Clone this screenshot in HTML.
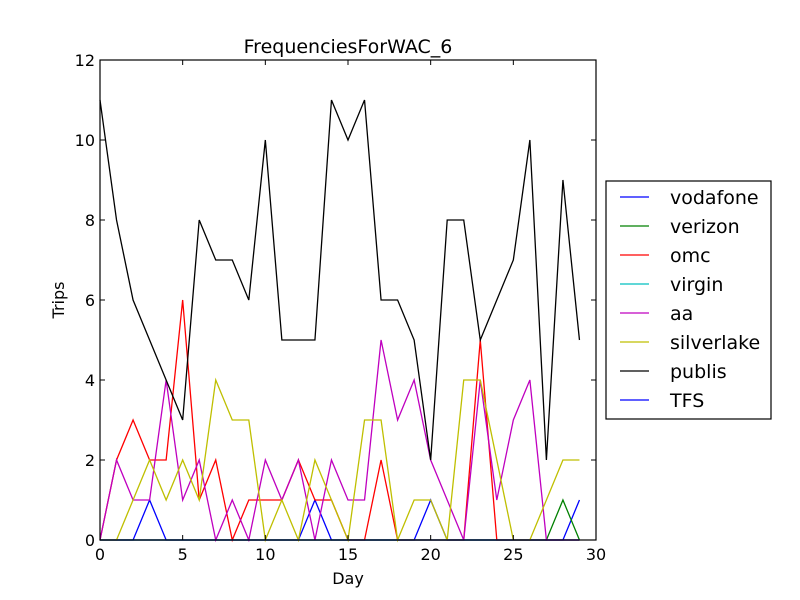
<!DOCTYPE html>
<html><head><meta charset="utf-8"><style>
body{margin:0;background:#fff}
svg{display:block;font-family:"DejaVu Sans","Liberation Sans",sans-serif}
</style></head><body>
<svg id="chart" width="800" height="600" xmlns="http://www.w3.org/2000/svg">
<rect width="800" height="600" fill="#fff"/>
<text x="348" y="53" font-size="19" text-anchor="middle">FrequenciesForWAC_6</text>
<g id="plot"></g>
<text x="348" y="584" font-size="16" text-anchor="middle">Day</text>
<text x="64" y="300" font-size="16" text-anchor="middle" transform="rotate(-90 64 300)">Trips</text>
<g id="legend"></g>
</svg>
<script>
const days = Array.from({length:30},(_,i)=>i);
const seriesNames = ["vodafone","verizon","omc","virgin","aa","silverlake","publis","TFS"];
const seriesColors = ["#0000ff","#008000","#ff0000","#00bfbf","#bf00bf","#bfbf00","#000000","#0000ff"];
const vodafone = [0,0,0,1,0,0,0,0,0,0,0,0,0,1,0,0,0,0,0,0,1,0,0,0,0,0,0,0,0,1];
const verizon = [0,0,0,0,0,0,0,0,0,0,0,0,0,0,0,0,0,0,0,0,0,0,0,0,0,0,0,0,1,0];
const omc = [0,2,3,2,2,6,1,2,0,1,1,1,2,1,1,0,0,2,0,0,0,0,0,5,0,0,0,0,0,0];
const virgin = [0,0,0,0,0,0,0,0,0,0,0,0,0,0,0,0,0,0,0,0,0,0,0,0,0,0,0,0,0,0];
const aa = [0,2,1,1,4,1,2,0,1,0,2,1,2,0,2,1,1,5,3,4,2,1,0,4,1,3,4,0,0,0];
const silverlake = [0,0,1,2,1,2,1,4,3,3,0,1,0,2,1,0,3,3,0,1,1,0,4,4,2,0,0,1,2,2];
const publis = [11,8,6,5,4,3,8,7,7,6,10,5,5,5,11,10,11,6,6,5,2,8,8,5,6,7,10,2,9,5];
const TFS = [0,0,0,0,0,0,0,0,0,0,0,0,0,0,0,0,0,0,0,0,0,0,0,0,0,0,0,0,0,0];
const xTicks = [0,5,10,15,20,25,30];
const yTicks = [0,2,4,6,8,10,12];

const NS="http://www.w3.org/2000/svg";
const L=100,R=596,T=60,B=540;
const xs=v=>L+(v/30)*(R-L);
const ys=v=>B-(v/12)*(B-T);
const plot=document.getElementById('plot');
function mk(tag,attrs,parent){const e=document.createElementNS(NS,tag);for(const k in attrs)e.setAttribute(k,attrs[k]);parent.appendChild(e);return e;}
const allSeries=[vodafone,verizon,omc,virgin,aa,silverlake,publis,TFS];
allSeries.forEach((s,i)=>{
  const p=mk('polyline',{points:s.map((v,j)=>xs(days[j])+','+ys(v)).join(' '),fill:'none',stroke:seriesColors[i],'stroke-width':1.3},plot);
  
  
});
const frame=mk('rect',{x:L,y:T,width:R-L,height:B-T,fill:'none',stroke:'#000','stroke-width':1.2},plot);


xTicks.forEach(t=>{
  const x=xs(t);
  mk('line',{x1:x,y1:B,x2:x,y2:B-5,stroke:'#000'},plot);
  mk('line',{x1:x,y1:T,x2:x,y2:T+5,stroke:'#000'},plot);
  const tx=mk('text',{x:x,y:B+20,'font-size':16,'text-anchor':'middle'},plot);
  tx.textContent=t;
  
  
});
yTicks.forEach(t=>{
  const y=ys(t);
  mk('line',{x1:L,y1:y,x2:L+5,y2:y,stroke:'#000'},plot);
  mk('line',{x1:R,y1:y,x2:R-5,y2:y,stroke:'#000'},plot);
  const tx=mk('text',{x:L-5,y:y+6,'font-size':16,'text-anchor':'end'},plot);
  tx.textContent=t;
  
  
});
const lg=document.getElementById('legend');
const box=mk('rect',{x:606,y:181,width:165,height:238,fill:'#fff',stroke:'#000','stroke-width':1.2},lg);


seriesNames.forEach((n,i)=>{
  const y=197+i*29;
  const g=mk('g',{},lg);
  
  
  mk('line',{x1:620,y1:y,x2:649,y2:y,stroke:seriesColors[i],'stroke-width':1.3},g);
  const tx=mk('text',{x:670,y:y+7,'font-size':19},g);
  tx.textContent=n;
});
</script>
</body></html>
